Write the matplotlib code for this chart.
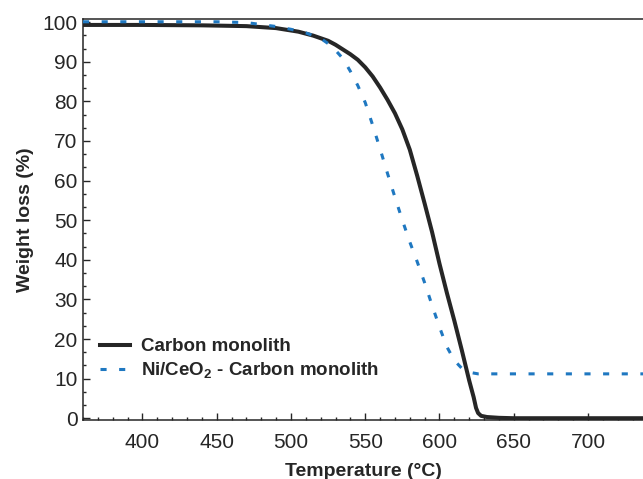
import matplotlib
matplotlib.use("Agg")
import matplotlib.pyplot as plt
from matplotlib.ticker import MultipleLocator, AutoMinorLocator

plt.rcParams['font.family'] = ['Liberation Sans', 'DejaVu Sans']
plt.rcParams['mathtext.fontset'] = 'custom'
plt.rcParams['mathtext.rm'] = 'Liberation Sans'
plt.rcParams['mathtext.bf'] = 'Liberation Sans:bold'

# TGA curves
temp_carbon = [360, 400, 440, 470, 490, 505, 515, 525, 530, 535, 540, 545, 550, 555, 560, 565,
               570, 575, 580, 585, 590, 595, 600, 605, 610, 615, 620, 623, 624.6, 626, 628,
               632, 640, 650, 700, 740]
weight_carbon = [99.3, 99.3, 99.2, 99.0, 98.5, 97.6, 96.6, 95.3, 94.3, 93.1, 91.9, 90.5, 88.6,
                 86.3, 83.5, 80.4, 77.0, 72.9, 67.8, 61.2, 54.2, 47.0, 39.0, 31.6, 24.6, 17.2,
                 9.5, 5.3, 2.6, 1.3, 0.6, 0.3, 0.1, 0.0, 0.0, 0.0]

temp_ni = [360, 400, 450, 470, 480, 490, 500, 510, 520, 525, 530, 535, 540, 545, 550, 555,
           560, 565, 570, 575, 580, 585, 590, 595, 600, 605, 610, 615, 620, 626, 680, 740]
weight_ni = [100.1, 100.1, 100.1, 99.9, 99.4, 98.9, 98.2, 97.3, 95.9, 94.6, 92.9, 90.8, 87.6,
             84.0, 79.7, 74.0, 68.0, 61.8, 55.8, 50.0, 44.5, 39.5, 34.2, 28.5, 23.0, 18.0,
             14.6, 12.6, 11.6, 11.2, 11.2, 11.2]

labels = ['Carbon monolith', r'Ni/CeO$_\mathbf{2}$ - Carbon monolith']

fig = plt.figure(figsize=(6.43, 4.79), dpi=100)
ax = fig.add_axes([83 / 643, 1 - 420 / 479, 1 - 83 / 643, 401 / 479])

ax.plot(temp_carbon, weight_carbon, color='#262626', lw=2.9, label=labels[0], zorder=3)
ax.plot(temp_ni, weight_ni, color='#1f78c1', lw=2.2, dashes=(2, 4.1), label=labels[1], zorder=4)

ax.set_xlim(360, 737)
ax.set_ylim(-0.45, 100.8)
ax.xaxis.set_major_locator(MultipleLocator(50))
ax.xaxis.set_minor_locator(MultipleLocator(10))
ax.yaxis.set_major_locator(MultipleLocator(10))
ax.yaxis.set_minor_locator(AutoMinorLocator(3))
ax.tick_params(which='both', direction='in', labelsize=15, color='#262626', labelcolor='#262626')
ax.tick_params(which='major', length=5, width=1, pad=9)
ax.tick_params(which='minor', length=2.5, width=1)
ax.tick_params(axis='y', pad=4)
ax.spines['right'].set_visible(False)
for s in ['left', 'top', 'bottom']:
    ax.spines[s].set_linewidth(1.1)
    ax.spines[s].set_color('#262626')

ax.set_xlabel('Temperature (°C)', fontsize=14, fontweight='bold', color='#262626', labelpad=8.5)
ax.set_ylabel('Weight loss (%)', fontsize=14, fontweight='bold', color='#262626', labelpad=6)

leg = ax.legend(loc='lower left', bbox_to_anchor=(0.0, 0.055), frameon=False,
                prop={'size': 13.5, 'weight': 'bold'}, handlelength=1.6, handletextpad=0.6,
                labelspacing=0.3, borderaxespad=0.5)
for t in leg.get_texts():
    t.set_color('#262626')

fig.savefig('out.png', dpi=100)
